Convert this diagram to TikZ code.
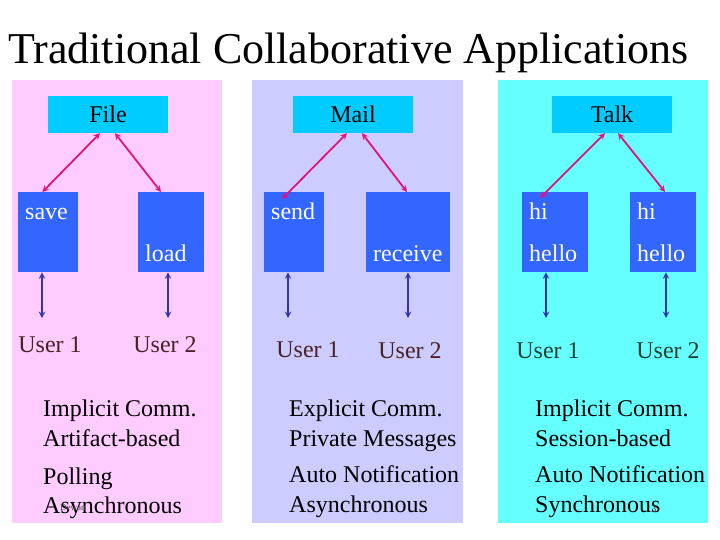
\documentclass[tikz,border=0pt]{standalone}
\usepackage{fontspec}
\setmainfont{Liberation Serif}
\newfontfamily\slidefont{Liberation Serif}
\usetikzlibrary{positioning}
\definecolor{pinkbg}{HTML}{FFCCFF}
\definecolor{lilacbg}{HTML}{CCCCFF}
\definecolor{cyanbg}{HTML}{66FFFF}
\definecolor{headbox}{HTML}{00CCFF}
\definecolor{bufbox}{HTML}{3366FF}
\definecolor{linkpink}{HTML}{E0147A}
\definecolor{linkblue}{HTML}{3333AA}
\definecolor{userbrown}{HTML}{4A2020}
\definecolor{usergreen}{HTML}{1E4030}
\tikzset{
  every node/.style={font=\slidefont\fontsize{24}{24}\selectfont},
  head/.style={rectangle, fill=headbox, minimum width=120pt, minimum height=37pt},
  buf/.style={rectangle, fill=bufbox, anchor=north west, inner sep=0pt},
  buftext/.style={text=white, anchor=base west, inner sep=0pt},
  note/.style={anchor=base west, inner sep=0pt},
  share/.style={<->, >=stealth, linkpink, line width=1.8pt},
  local/.style={<->, >=stealth, linkblue, line width=1.8pt}
}
\begin{document}
\begin{tikzpicture}[x=1pt, y=-1pt]
	\useasboundingbox (0,0) rectangle (720,540);
	\pgfmathsetmacro{\yhead}{114.5}
	\pgfmathsetmacro{\ybuf}{192}
	\pgfmathsetmacro{\yuser}{318}

	\fill[pinkbg] (12,80) rectangle (222,523);
	\fill[lilacbg] (252,80) rectangle (463,523);
	\fill[cyanbg] (498,80) rectangle (708,523);

	\node[anchor=base west, inner sep=0pt, font=\slidefont\fontsize{44}{44}\selectfont] (title) at (8,64) {Traditional Collaborative Applications};

	%File panel
	\node[head] (file) at (108,\yhead) {File};
	\node[buf, minimum width=60pt, minimum height=80pt] (save) at (18,\ybuf) {};
	\node[buf, minimum width=66pt, minimum height=80pt] (load) at (138,\ybuf) {};
	\node[buftext] at (25,219) {save};
	\node[buftext] at (145,261) {load};
	\coordinate (u1a) at (42,\yuser);
	\coordinate (u2a) at (168,\yuser);
	\node[text=userbrown] (user1a) at (50,345) {User 1};
	\node[text=userbrown] (user2a) at (165,345) {User 2};

	%Mail panel
	\node[head] (mail) at (353,\yhead) {Mail};
	\node[buf, minimum width=60pt, minimum height=80pt] (send) at (264,\ybuf) {};
	\node[buf, minimum width=84pt, minimum height=80pt] (receive) at (366,\ybuf) {};
	\node[buftext] at (271,219) {send};
	\node[buftext] at (373,261) {receive};
	\coordinate (u1b) at (288,\yuser);
	\coordinate (u2b) at (408,\yuser);
	\node[text=userbrown] (user1b) at (308,350) {User 1};
	\node[text=userbrown] (user2b) at (410,351) {User 2};

	%Talk panel
	\node[head] (talk) at (612,\yhead) {Talk};
	\node[buf, minimum width=66pt, minimum height=80pt] (talkone) at (522,\ybuf) {};
	\node[buf, minimum width=66pt, minimum height=80pt] (talktwo) at (630,\ybuf) {};
	\node[buftext] at (529,219) {hi};
	\node[buftext] at (529,261) {hello};
	\node[buftext] at (637,219) {hi};
	\node[buftext] at (637,261) {hello};
	\coordinate (u1c) at (546,\yuser);
	\coordinate (u2c) at (666,\yuser);
	\node[text=usergreen] (user1c) at (548,351) {User 1};
	\node[text=usergreen] (user2c) at (668,351) {User 2};

	%Shared links
	\draw[share] ([xshift=-8pt]file.south) -- ([xshift=-36pt]save.north east);
	\draw[share] ([xshift=7pt]file.south) -- ([xshift=23pt]load.north west);
	\draw[share] ([xshift=-6pt]mail.south) -- ([xshift=18pt,yshift=-7pt]send.north west);
	\draw[share] ([xshift=9pt]mail.south) -- ([xshift=41pt]receive.north west);
	\draw[share] ([xshift=-7pt]talk.south) -- ([xshift=18pt,yshift=-6pt]talkone.north west);
	\draw[share] ([xshift=6pt]talk.south) -- ([xshift=35pt]talktwo.north west);

	%Local links
	\draw[local] ([xshift=24pt]save.south west) -- (u1a);
	\draw[local] ([xshift=30pt]load.south west) -- (u2a);
	\draw[local] ([xshift=24pt]send.south west) -- (u1b);
	\draw[local] ([xshift=42pt]receive.south west) -- (u2b);
	\draw[local] ([xshift=24pt]talkone.south west) -- (u1c);
	\draw[local] ([xshift=36pt]talktwo.south west) -- (u2c);

	%Properties
	\node[note] (p1) at (43,416) {Implicit Comm.};
	\node[note] (p2) at (43,446) {Artifact-based};
	\node[note] (p3) at (43,484) {Polling};
	\node[note] (p4) at (43,513) {Asynchronous};
	\node[note] (q1) at (289,416) {Explicit Comm.};
	\node[note] (q2) at (289,446) {Private Messages};
	\node[note] (q3) at (289,482) {Auto Notification};
	\node[note] (q4) at (289,512) {Asynchronous};
	\node[note] (r1) at (535,416) {Implicit Comm.};
	\node[note] (r2) at (535,446) {Session-based};
	\node[note] (r3) at (535,482) {Auto Notification};
	\node[note] (r4) at (535,512) {Synchronous};

	\node[anchor=base west, inner sep=0pt, font=\slidefont\fontsize{9}{9}\selectfont, text=black!70] (author) at (60,510) {Dewan};
	\node[anchor=base west, inner sep=0pt, font=\slidefont\fontsize{11}{11}\selectfont, text=black!70] (page) at (651,512) {3};
\end{tikzpicture}
\end{document}
